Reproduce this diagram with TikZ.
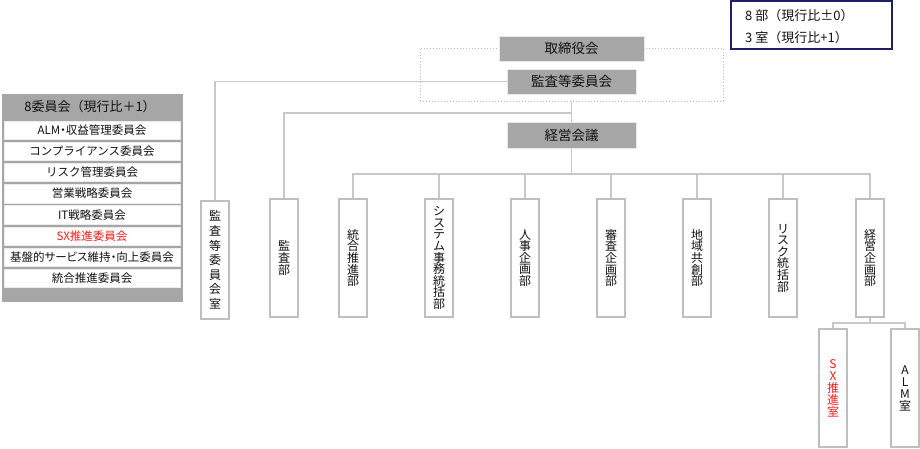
\documentclass[tikz,border=0pt]{standalone}
\usepackage{fontspec}
\setmainfont{Noto Sans CJK JP}
\definecolor{boxgray}{HTML}{A6A6A6}
\definecolor{linegray}{HTML}{C8C8C8}
\definecolor{bordgray}{HTML}{BFBFBF}
\definecolor{navyc}{HTML}{1F1F66}
\definecolor{txt}{HTML}{111111}
\definecolor{redtxt}{HTML}{FF1A1A}
\tikzset{
  graybox/.style={draw=white!75!boxgray, line width=0.8pt, fill=boxgray, minimum width=#1, minimum height=25, inner sep=0pt, text=txt, font=\fontsize{13.5}{14}\selectfont},
  deptbox/.style={draw=bordgray, line width=2pt, fill=white, minimum width=28, minimum height=118, inner sep=0pt, align=center, text=txt, font=\fontsize{12}{11.6}\selectfont},
  conn/.style={draw=linegray, line width=1.4pt},
  frame/.style={draw=bordgray, dotted, line width=1pt, minimum width=303, minimum height=53, inner sep=0pt},
  cmtbox/.style={fill=white, draw=white!85!gray, line width=0.5pt, minimum width=176, minimum height=18.5, inner sep=0pt, text=txt, font=\fontsize{11.5}{12}\selectfont},
  notebox/.style={draw=navyc, line width=1.6pt, fill=white, minimum width=161, minimum height=48, inner sep=0pt},
  notetxt/.style={anchor=west, inner sep=0pt, text=txt, font=\fontsize{13}{14}\selectfont}
}
\begin{document}
\begin{tikzpicture}[x=1pt, y=-1pt]
\useasboundingbox (0,0) rectangle (920,448);

% note box
\node[notebox] (note) at (811.5,25) {};
\node[notetxt] (noteA) at (745,15.5) {8 部（現行比±0）};
\node[notetxt] (noteB) at (745,37.5) {3 室（現行比+1）};

% board area
\node[frame] (frm) at (571.5,74.5) {};
\node[graybox=145] (tori) at (571.5,48.5) {取締役会};
\node[graybox=129] (kansa) at (571.5,81.5) {監査等委員会};
\node[graybox=129, minimum height=26] (keiei) at (571.5,135) {経営会議};

% departments
\node[deptbox, font=\fontsize{12}{14.6}\selectfont] (shitsu) at (215,260) {監\\査\\等\\委\\員\\会\\室};
\node[deptbox] (kansabu) at (284,258) {監\\査\\部};
\node[deptbox] (tougou) at (353,258) {統\\合\\推\\進\\部};
\node[deptbox] (system) at (439,258) {シ\\ス\\テ\\ム\\事\\務\\統\\括\\部};
\node[deptbox] (jinji) at (525,258) {人\\事\\企\\画\\部};
\node[deptbox] (shinsa) at (611,258) {審\\査\\企\\画\\部};
\node[deptbox] (chiiki) at (697,258) {地\\域\\共\\創\\部};
\node[deptbox] (risk) at (783,258) {リ\\ス\\ク\\統\\括\\部};
\node[deptbox] (keikaku) at (870,258) {経\\営\\企\\画\\部};
\node[deptbox, text=redtxt, font=\fontsize{12}{12}\selectfont] (sx) at (833,388) {S\\X\\推\\進\\室};
\node[deptbox, font=\fontsize{12}{12}\selectfont] (alm) at (905,388) {A\\L\\M\\室};

% connectors
\coordinate (j1) at (571.5,113);
\coordinate (bus) at (571.5,174);
\coordinate (sub) at (870,323);
\draw[conn] (kansa.west) -| (shitsu.north);
\draw[conn] (frm.south) -- (keiei.north);
\draw[conn] (j1) -| (kansabu.north);
\draw[conn] (keiei.south) -- (bus);
\foreach \d in {tougou,system,jinji,shinsa,chiiki,risk,keikaku}
  \draw[conn] (bus) -| (\d.north);
\draw[conn] (keikaku.south) -- (sub);
\draw[conn] (sub) -| (sx.north);
\draw[conn] (sub) -| (alm.north);

% committee panel
\node[fill=boxgray, minimum width=181, minimum height=208, inner sep=0pt] (panel) at (92.5,198) {};
\node[inner sep=0pt, text=txt, font=\fontsize{13}{14}\selectfont] (phead) at (90,106.5) {8委員会（現行比＋1）};
\node[cmtbox] (c1) at (92,130) {\addfontfeature{RawFeature=+palt}ALM・収益管理委員会};
\node[cmtbox] (c2) at (92,151.2) {コンプライアンス委員会};
\node[cmtbox] (c3) at (92,172.4) {リスク管理委員会};
\node[cmtbox] (c4) at (92,193.6) {営業戦略委員会};
\node[cmtbox] (c5) at (92,214.8) {IT戦略委員会};
\node[cmtbox, text=redtxt] (c6) at (92,236) {SX推進委員会};
\node[cmtbox] (c7) at (92,257.2) {\addfontfeature{RawFeature=+palt}基盤的サービス維持・向上委員会};
\node[cmtbox] (c8) at (92,278.4) {統合推進委員会};
\end{tikzpicture}
\end{document}
